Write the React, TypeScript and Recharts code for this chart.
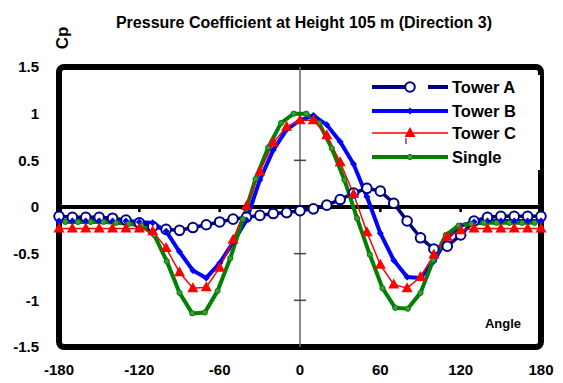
import React from "react";
import { LineChart, Line, XAxis, YAxis, ReferenceLine, ReferenceArea } from "recharts";

const angles = [
  -180, -170, -160, -150, -140, -130, -120, -110, -100, -90, -80, -70, -60, -50, -40, -30, -20, -10,
  0, 10, 20, 30, 40, 50, 60, 70, 80, 90, 100, 110, 120, 130, 140, 150, 160, 170, 180,
];
const towerA = [
  -0.1, -0.11, -0.11, -0.11, -0.12, -0.14, -0.17, -0.21, -0.24,
  -0.25, -0.22, -0.19, -0.16, -0.13, -0.11, -0.09, -0.07, -0.06,
  -0.04, -0.02, 0.02, 0.08, 0.15, 0.2, 0.17, 0.04, -0.15,
  -0.33, -0.45, -0.42, -0.3, -0.15, -0.11, -0.1, -0.1, -0.1, -0.1,
];
const towerB = [
  -0.15, -0.15, -0.15, -0.15, -0.15, -0.15, -0.16, -0.17, -0.26,
  -0.48, -0.68, -0.76, -0.6, -0.38, -0.14, 0.29, 0.61, 0.83,
  0.93, 0.98, 0.88, 0.7, 0.46, 0.11, -0.28, -0.57, -0.75,
  -0.76, -0.58, -0.33, -0.2, -0.16, -0.15, -0.15, -0.15, -0.15, -0.15,
];
const towerC = [
  -0.23, -0.23, -0.23, -0.23, -0.23, -0.23, -0.23, -0.26, -0.44,
  -0.7, -0.87, -0.86, -0.65, -0.35, 0.01, 0.38, 0.69, 0.86,
  0.93, 0.93, 0.77, 0.48, 0.14, -0.27, -0.62, -0.83, -0.87,
  -0.75, -0.51, -0.32, -0.25, -0.23, -0.23, -0.23, -0.23, -0.23, -0.23,
];
const singleAngles = [
  -175.3, -165.8, -156.3, -146.8, -137.4, -127.9, -118.4, -108.9, -99.5, -90, -80.5, -71.1, -61.6,
  -52.1, -42.6, -33.2, -23.7, -14.2, -4.7, 4.7, 14.2, 23.7, 33.2, 42.6, 52.1, 61.6, 71.1, 80.5, 90,
  99.5, 108.9, 118.4, 127.9, 137.4, 146.8, 156.3, 165.8, 175.3,
];
const singleCp = [
  -0.16, -0.16, -0.16, -0.16, -0.17, -0.18, -0.2, -0.3, -0.58, -0.92, -1.14, -1.13, -0.9,
  -0.55, -0.13, 0.3, 0.64, 0.9, 1.0, 1.0, 0.9, 0.63, 0.29, -0.12, -0.51, -0.87, -1.08, -1.09, -0.92,
  -0.57, -0.3, -0.2, -0.18, -0.17, -0.17, -0.17, -0.17, -0.17,
];

const xTicks = [-180, -120, -60, 0, 60, 120, 180];
const yTicks = [-1.5, -1, -0.5, 0, 0.5, 1, 1.5];
const zeroAxisTicks = [-120, -60, 60, 120];
const midAxisTicks = [-1, -0.5, 0.5, 1];

const NAVY = "#000080";
const BLUE = "#0000ff";
const RED = "#ff0000";
const GREEN = "#008000";
const FONT = "'Liberation Sans', Arial, sans-serif";

const rowsA = angles.map((a, i) => ({ angle: a, cp: towerA[i] }));
const rowsB = angles.map((a, i) => ({ angle: a, cp: towerB[i] }));
const rowsC = angles.map((a, i) => ({ angle: a, cp: towerC[i] }));
const rowsS = singleAngles.map((a, i) => ({ angle: a, cp: singleCp[i] }));

const Diamond = (p: any) => (
  <polygon
    key={p.key}
    points={`${p.cx},${p.cy - 3.5} ${p.cx + 3.5},${p.cy} ${p.cx},${p.cy + 3.5} ${p.cx - 3.5},${p.cy}`}
    fill={BLUE}
  />
);
const Triangle = (p: any) => (
  <polygon
    key={p.key}
    points={`${p.cx},${p.cy - 6} ${p.cx + 5.5},${p.cy + 4} ${p.cx - 5.5},${p.cy + 4}`}
    fill={RED}
  />
);
const Dot = (p: any) => (
  <circle key={p.key} cx={p.cx} cy={p.cy} r={2.6} fill="#3c9a3c" stroke={GREEN} strokeWidth={1} />
);
const Ring = (p: any) => (
  <circle key={p.key} cx={p.cx} cy={p.cy} r={4.8} fill="#fff" stroke={NAVY} strokeWidth={2} />
);

const Frame = (p: any) => (
  <rect x={p.x} y={p.y} width={p.width} height={p.height} rx={5} fill="none" stroke="#000" strokeWidth={6} />
);

const LegendBox = () => {
  const rows = [
    { label: "Tower A", y: 12 },
    { label: "Tower B", y: 36 },
    { label: "Tower C", y: 58 },
    { label: "Single", y: 82 },
  ];
  return (
    <svg width={180} height={95} style={{ fontFamily: FONT, display: "block" }}>
      <rect x={0} y={0} width={180} height={95} fill="#fff" />
      <line x1={12} y1={rows[0].y} x2={46} y2={rows[0].y} stroke={NAVY} strokeWidth={4} />
      <circle cx={50} cy={rows[0].y} r={4.8} fill="#fff" stroke={NAVY} strokeWidth={2} />
      <line x1={68} y1={rows[0].y} x2={88} y2={rows[0].y} stroke={NAVY} strokeWidth={4} />
      <line x1={12} y1={rows[1].y} x2={88} y2={rows[1].y} stroke={BLUE} strokeWidth={4} />
      <Diamond cx={50} cy={rows[1].y} />
      <line x1={12} y1={rows[2].y} x2={88} y2={rows[2].y} stroke={RED} strokeWidth={1.5} />
      <Triangle cx={50} cy={rows[2].y} />
      <line x1={46} y1={rows[2].y + 5} x2={46} y2={rows[2].y + 11} stroke="#000" strokeWidth={1} />
      <line x1={12} y1={rows[3].y} x2={88} y2={rows[3].y} stroke={GREEN} strokeWidth={4} />
      <Dot cx={50} cy={rows[3].y} />
      {rows.map((r) => (
        <text key={r.label} x={92} y={r.y + 6} fontSize={16.5} fontWeight="bold" fill="#000">
          {r.label}
        </text>
      ))}
    </svg>
  );
};

export default function App() {
  return (
    <div style={{ position: "absolute", left: 0, top: 0, width: 563, height: 383, background: "#fff" }}>
      <LineChart width={563} height={383} margin={{ top: 67, right: 22, bottom: 6, left: 0 }}>
        <XAxis
          type="number"
          dataKey="angle"
          domain={[-180, 180]}
          ticks={xTicks}
          axisLine={false}
          tickLine={false}
          height={30}
          tick={{ fontSize: 15, fontWeight: "bold", fill: "#000", fontFamily: FONT }}
          tickMargin={11}
          allowDuplicatedCategory={false}
        />
        <YAxis
          type="number"
          domain={[-1.5, 1.5]}
          ticks={yTicks}
          axisLine={false}
          tickLine={false}
          width={59}
          tick={{ fontSize: 15, fontWeight: "bold", fill: "#000", fontFamily: FONT }}
          tickMargin={14}
        />
        <ReferenceArea x1={-180} x2={180} y1={-1.5} y2={1.5} shape={Frame} ifOverflow="visible" />
        <ReferenceLine x={0} stroke="#666" strokeWidth={1.5} />
        {midAxisTicks.map((v) => (
          <ReferenceLine
            key={`m${v}`}
            segment={[{ x: -4.5, y: v }, { x: 4.5, y: v }]}
            stroke="#444"
            strokeWidth={1.5}
          />
        ))}
        <ReferenceLine y={0} stroke="#000" strokeWidth={4} />
        {zeroAxisTicks.map((v) => (
          <ReferenceLine
            key={`z${v}`}
            segment={[{ x: v, y: 0 }, { x: v, y: -0.055 }]}
            stroke="#000"
            strokeWidth={2.5}
          />
        ))}
        <Line data={rowsA} dataKey="cp" name="Tower A" stroke={NAVY} strokeWidth={3.5} dot={Ring} isAnimationActive={false} />
        <Line data={rowsB} dataKey="cp" name="Tower B" stroke={BLUE} strokeWidth={4} dot={Diamond} isAnimationActive={false} />
        <Line data={rowsS} dataKey="cp" name="Single" stroke={GREEN} strokeWidth={4} dot={Dot} isAnimationActive={false} />
        <Line data={rowsC} dataKey="cp" name="Tower C" stroke={RED} strokeWidth={1.5} dot={Triangle} isAnimationActive={false} />
        <text x={304} y={28} textAnchor="middle" fontSize={16} fontWeight="bold" fontFamily={FONT} fill="#000">
          Pressure Coefficient at Height 105 m (Direction 3)
        </text>
        <text x={68} y={38} textAnchor="middle" fontSize={17} fontWeight="bold" fontFamily={FONT} fill="#000" transform="rotate(-90 68 38)">
          Cp
        </text>
        <text x={503} y={328} textAnchor="middle" fontSize={13} fontWeight="bold" fontFamily={FONT} fill="#000">
          Angle
        </text>
      </LineChart>
      <div style={{ position: "absolute", left: 360, top: 75 }}>
        <LegendBox />
      </div>
    </div>
  );
}
